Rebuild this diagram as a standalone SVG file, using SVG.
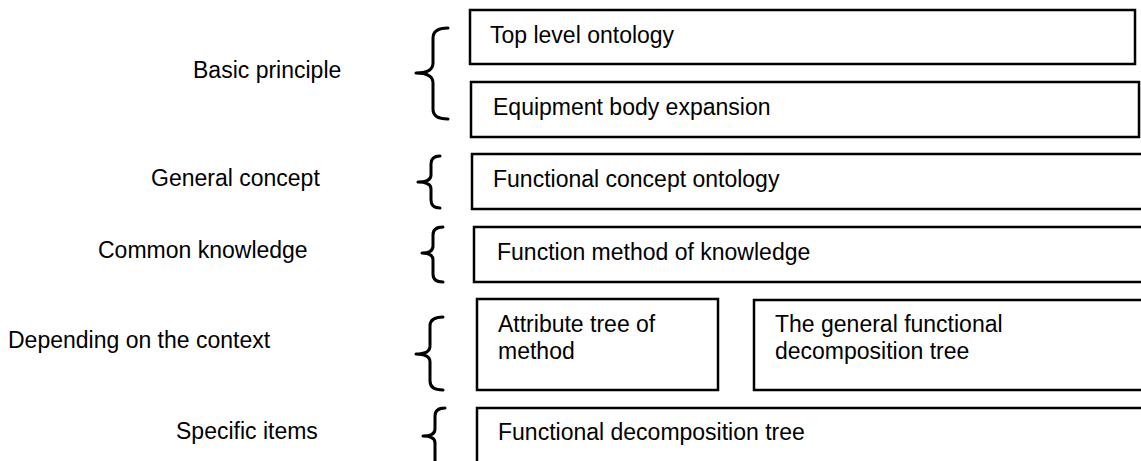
<svg xmlns="http://www.w3.org/2000/svg" width="1141" height="461" viewBox="0 0 1141 461">
<style>
text{font-family:"Liberation Sans",Arial,sans-serif;font-size:23px;fill:#000}
.box{fill:#fff;stroke:#000;stroke-width:2.5}
.brace{fill:none;stroke:#000;stroke-width:3;stroke-linecap:round;stroke-linejoin:round}
</style>
<rect width="1141" height="461" fill="#fff"/>
<g id="labels">
<text x="193" y="78">Basic principle</text>
<text x="151" y="186">General concept</text>
<text x="98" y="258">Common knowledge</text>
<text x="8" y="348">Depending on the context</text>
<text x="176" y="439">Specific items</text>
</g>
<g id="connectors">
<path class="brace" d="M448,28 Q433,28 433,38 L433,63 Q433,73 416,73 Q433,73 433,83 L433,109 Q433,119 448,119"/>
<path class="brace" d="M440,156 Q431,156 431,164 L431,175 Q431,182 418,182 Q431,182 431,189 L431,200 Q431,208 440,208"/>
<path class="brace" d="M443,227 Q433,227 433,235 L433,246 Q433,253 422,253 Q433,253 433,260 L433,274 Q433,282 443,282"/>
<path class="brace" d="M443,317 Q430,317 430,326 L430,346 Q430,354 416,354 Q430,354 430,362 L430,381 Q430,390 443,390"/>
<path class="brace" d="M445,408 Q435,408 435,416 L435,429 Q435,436 423,436 Q435,436 435,443 L435,470"/>
</g>
<g id="n1"><rect class="box" x="470" y="10" width="665" height="54"/><text x="490" y="43">Top level ontology</text></g>
<g id="n2"><rect class="box" x="471" y="82" width="668" height="55"/><text x="493" y="115">Equipment body expansion</text></g>
<g id="n3"><rect class="box" x="472" y="154" width="700" height="55"/><text x="493" y="187">Functional concept ontology</text></g>
<g id="n4"><rect class="box" x="474" y="227" width="700" height="55"/><text x="497" y="260">Function method of knowledge</text></g>
<g id="n5"><rect class="box" x="477" y="299" width="241" height="91"/><text x="498" y="332">Attribute tree of</text><text x="498" y="359">method</text></g>
<g id="n6"><rect class="box" x="754" y="300" width="420" height="90"/><text x="775" y="332">The general functional</text><text x="775" y="359">decomposition tree</text></g>
<g id="n7"><rect class="box" x="477" y="408" width="700" height="80"/><text x="498" y="440">Functional decomposition tree</text></g>
</svg>
